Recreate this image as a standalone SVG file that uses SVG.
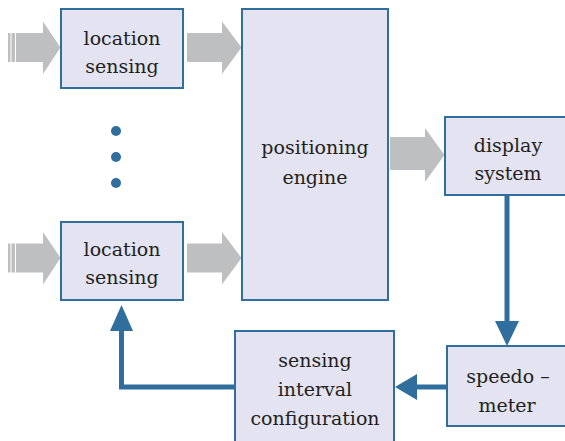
<svg xmlns="http://www.w3.org/2000/svg" width="565" height="441" viewBox="0 0 565 441">
<style>
.box{fill:#E4E3F1;stroke:#2F6E9D;stroke-width:2}
.t{font-family:'DejaVu Serif','Liberation Serif',serif;font-size:19px;fill:#231F20;text-anchor:middle}
.g{fill:#BEBFC1}
.ln{fill:none;stroke:#2F6E9D;stroke-width:5}
.ah{fill:#2F6E9D}
.dot{fill:#2F6E9D}
</style>
<rect width="565" height="441" fill="#FFFFFF"/>
<g id="inputs">
<g id="in-arrow-top" class="g">
<rect x="8" y="33" width="2.5" height="29"/>
<rect x="11.5" y="33" width="3.5" height="29"/>
<polygon points="16,33 43,33 43,21.5 60.5,47.5 43,74 43,62 16,62"/>
</g>
<g id="in-arrow-bottom" class="g">
<rect x="8" y="243.5" width="2.5" height="29"/>
<rect x="11.5" y="243.5" width="3.5" height="29"/>
<polygon points="16,243.5 43,243.5 43,232 60.5,258 43,284.5 43,272.5 16,272.5"/>
</g>
</g>
<g id="connectors">
<polygon class="g" points="187,33 222,33 222,21.5 241.5,47.5 222,74 222,62 187,62"/>
<polygon class="g" points="187,243.5 222,243.5 222,232 241.5,258 222,284.5 222,272.5 187,272.5"/>
<polygon class="g" points="390,137 425,137 425,128 444.5,155 425,182 425,170 390,170"/>
<path class="ln" d="M507,196 V322"/>
<polygon class="ah" points="495,321 519,321 507,346"/>
<path class="ln" d="M447,387 H416"/>
<polygon class="ah" points="417,374 417,400 395,387"/>
<path class="ln" d="M235,387 H121.5 V330"/>
<polygon class="ah" points="110,331 133,331 121.5,305"/>
</g>
<g id="dots">
<circle class="dot" cx="116" cy="131" r="5"/>
<circle class="dot" cx="116" cy="157" r="5"/>
<circle class="dot" cx="116" cy="183" r="5"/>
</g>
<g id="location-sensing-1">
<rect class="box" x="61" y="9" width="122" height="79"/>
<text class="t" x="122" y="45">location</text>
<text class="t" x="122" y="73">sensing</text>
</g>
<g id="location-sensing-2">
<rect class="box" x="61" y="222" width="122" height="78"/>
<text class="t" x="122" y="256">location</text>
<text class="t" x="122" y="284">sensing</text>
</g>
<g id="positioning-engine">
<rect class="box" x="242" y="9" width="146" height="291"/>
<text class="t" x="315" y="154">positioning</text>
<text class="t" x="315" y="184">engine</text>
</g>
<g id="display-system">
<rect class="box" x="445" y="117" width="122" height="78"/>
<text class="t" x="508" y="152">display</text>
<text class="t" x="508" y="180">system</text>
</g>
<g id="speedometer">
<rect class="box" x="447" y="346" width="122" height="80"/>
<text class="t" x="508" y="383">speedo –</text>
<text class="t" x="507" y="412">meter</text>
</g>
<g id="sensing-interval-configuration">
<rect class="box" x="235" y="331" width="159" height="112"/>
<text class="t" x="315" y="367">sensing</text>
<text class="t" x="315" y="396">interval</text>
<text class="t" x="315" y="425">configuration</text>
</g>
</svg>
